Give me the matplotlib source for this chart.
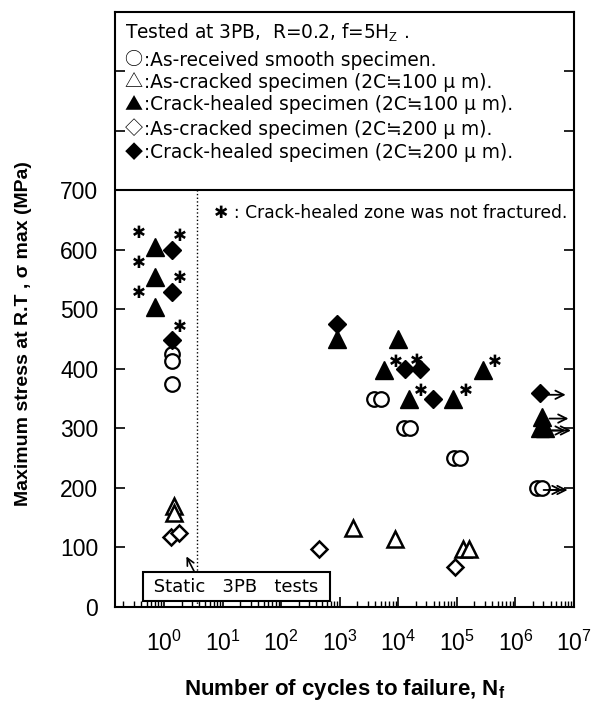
import matplotlib
matplotlib.use("Agg")
import matplotlib.pyplot as plt
import numpy as np

plt.rcParams['font.family'] = ['Liberation Sans', 'DejaVu Sans']
plt.rcParams['mathtext.fontset'] = 'custom'
plt.rcParams['mathtext.rm'] = 'Liberation Sans'
plt.rcParams['mathtext.it'] = 'Liberation Sans:italic'
plt.rcParams['mathtext.bf'] = 'Liberation Sans:bold'

JP = ['DejaVu Sans', 'Noto Sans CJK JP']
SYM = ['Noto Sans CJK JP', 'DejaVu Sans']

# As-received smooth specimen (open circles)
smooth_n = [1.36, 1.36, 1.36, 3800, 5100, 12400, 15600, 89000, 113000, 2.3e6, 2.8e6]
smooth_s = [425, 413, 375, 350, 350, 300, 300, 250, 250, 200, 200]
smooth_runout = [0, 0, 0, 0, 0, 0, 0, 0, 0, 1, 1]

# As-cracked specimen, 2C = 100 um (open triangles)
crack100_n = [1.48, 1.48, 1700, 8900, 129000, 162000]
crack100_s = [170, 158, 132, 115, 98, 98]

# Crack-healed specimen, 2C = 100 um (filled triangles)
heal100_n = [0.70, 0.70, 0.70, 900, 9900, 5600, 275000, 15000, 87000, 2.9e6, 2.6e6, 3.2e6]
heal100_s = [605, 555, 505, 450, 450, 398, 398, 349, 349, 320, 300, 300]
heal100_star = [1, 1, 1, 0, 0, 1, 1, 1, 1, 0, 0, 0]
heal100_runout = [0, 0, 0, 0, 0, 0, 0, 0, 0, 1, 1, 1]

# As-cracked specimen, 2C = 200 um (open diamonds)
crack200_n = [1.3, 1.8, 450, 93000]
crack200_s = [118, 124, 98, 68]

# Crack-healed specimen, 2C = 200 um (filled diamonds)
heal200_n = [1.36, 1.36, 1.36, 890, 12900, 23000, 38500, 2.6e6]
heal200_s = [600, 530, 448, 476, 400, 400, 349, 360]
heal200_star = [1, 1, 1, 0, 1, 0, 0, 0]
heal200_runout = [0, 0, 0, 0, 0, 0, 0, 1]

ytick_vals = [0, 100, 200, 300, 400, 500, 600, 700, 800, 900]
ytick_text = ['0', '100', '200', '300', '400', '500', '600', '700', '', '']
xtick_vals = [10.0 ** k for k in range(0, 8)]
static_limit = 3.6

legend_title = "Tested at 3PB,  R=0.2, f=5H$_\\mathrm{Z}$ ."
legend_syms = ["○", "△", "▲", "◇", "◆"]
legend_texts = [
    ":As-received smooth specimen.",
    ":As-cracked specimen (2C≒100 μ m).",
    ":Crack-healed specimen (2C≒100 μ m).",
    ":As-cracked specimen (2C≒200 μ m).",
    ":Crack-healed specimen (2C≒200 μ m).",
]

fig = plt.figure(figsize=(6.01, 7.04), dpi=100)
ax = fig.add_axes([0.1913, 0.1378, 0.7637, 0.8452])
ax.set_xscale('log')
ax.set_xlim(10 ** -0.84, 1e7)
ax.set_ylim(0, 1000)

ax.plot(smooth_n, smooth_s, 'o', ms=10.5, mfc='white', mec='black', mew=1.6, ls='none', zorder=3)
ax.plot(crack100_n, crack100_s, '^', ms=11.5, mfc='white', mec='black', mew=1.8, ls='none', zorder=3)
ax.plot(crack200_n, crack200_s, 'D', ms=8.5, mfc='white', mec='black', mew=1.8, ls='none', zorder=3)
ax.plot(heal100_n, heal100_s, '^', ms=12.5, color='black', ls='none', zorder=4)
ax.plot(heal200_n, heal200_s, 'D', ms=9.5, color='black', ls='none', zorder=4)


def stars(ns, ss, flags, left_static):
    for n, s, f in zip(ns, ss, flags):
        if not f:
            continue
        if left_static and n < static_limit:
            off = (-12, 10)
        elif n < static_limit:
            off = (6, 10)
        else:
            off = (9, 6)
        ax.annotate('✱', xy=(n, s), xytext=off, textcoords='offset points',
                    ha='center', va='center', fontsize=12, family='DejaVu Sans')


def runouts(ns, ss, flags):
    for n, s, f in zip(ns, ss, flags):
        if not f:
            continue
        xy0 = ax.transData.transform((n, s))
        p0 = ax.transData.inverted().transform((xy0[0] + 7, xy0[1] - 2))
        p1 = ax.transData.inverted().transform((xy0[0] + 26, xy0[1] - 2))
        ax.annotate('', xy=p1, xytext=p0,
                    arrowprops=dict(arrowstyle='->', lw=1.3, color='black',
                                    mutation_scale=15, shrinkA=0, shrinkB=0))


stars(heal100_n, heal100_s, heal100_star, True)
stars(heal200_n, heal200_s, heal200_star, False)
runouts(smooth_n, smooth_s, smooth_runout)
runouts(heal100_n, heal100_s, heal100_runout)
runouts(heal200_n, heal200_s, heal200_runout)

# static test boundary and legend separator
ax.plot([static_limit, static_limit], [0, 700], ls=':', color='black', lw=1)
ax.axhline(700, color='black', lw=1.5)

ax.annotate(' Static   3PB   tests ', xy=(2.4, 85), xytext=(17, 34),
            ha='center', va='center', fontsize=13, family=JP,
            bbox=dict(boxstyle='square,pad=0.3', fc='white', ec='black', lw=1.5),
            arrowprops=dict(arrowstyle='->', color='black', lw=1.2,
                            relpos=(0.28, 1.0), shrinkA=0, shrinkB=0))

ax.text(2 * static_limit, 662, '✱ : Crack-healed zone was not fractured.',
        fontsize=12.3, family=JP, va='center', ha='left')

# legend block in the upper part of the frame
ax.text(0.022, 966, legend_title, transform=ax.get_yaxis_transform(), fontsize=13.4,
        family=JP, va='center', ha='left')
legend_y = [919, 882, 844, 803, 763]
for sym, line, yy in zip(legend_syms, legend_texts, legend_y):
    ax.text(0.021, yy, sym, transform=ax.get_yaxis_transform(), fontsize=13,
            family=SYM, va='center', ha='left')
    ax.text(0.064, yy, line, transform=ax.get_yaxis_transform(), fontsize=13.4,
            family=JP, va='center', ha='left')

ax.set_yticks(ytick_vals)
ax.set_yticklabels(ytick_text)
ax.set_xticks(xtick_vals)
ax.tick_params(axis='both', which='major', direction='in', length=7, width=1.2,
               labelsize=16.5, right=True)
ax.tick_params(axis='y', pad=12)
ax.tick_params(axis='x', pad=17)
ax.tick_params(axis='x', which='minor', direction='in', length=4, width=1)
ax.xaxis.set_minor_locator(matplotlib.ticker.LogLocator(base=10, subs=np.arange(2, 10), numticks=20))
ax.xaxis.set_minor_formatter(matplotlib.ticker.NullFormatter())
for sp in ax.spines.values():
    sp.set_linewidth(1.5)

ax.set_xlabel('Number of cycles to failure, N$_\\mathbf{f}$', fontsize=16, fontweight='bold')
ax.xaxis.label.set_va('center')
ax.xaxis.set_label_coords(0.5, -0.1395)
ax.set_ylabel('Maximum stress at R.T , σ max (MPa)', fontsize=14, fontweight='bold')
ax.yaxis.label.set_va('center')
ax.yaxis.set_label_coords(-0.2, 0.459)

fig.savefig('out.png', dpi=100)
